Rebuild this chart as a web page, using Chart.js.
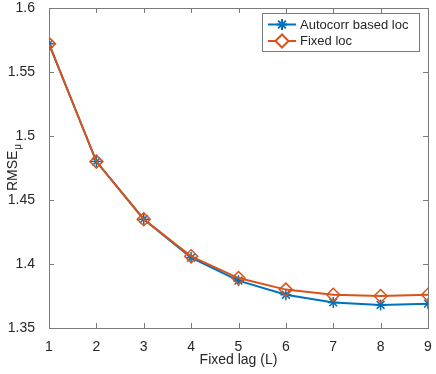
<!DOCTYPE html>
<html>
<head>
<meta charset="utf-8">
<script src="https://cdn.jsdelivr.net/npm/chart.js@4"></script>
<style>
html, body { margin: 0; padding: 0; background: #fff; }
#wrap { position: relative; width: 436px; height: 374px; }
</style>
</head>
<body>
<div id="wrap"><canvas id="rmseChart"></canvas></div>
<script>
const lags = [1, 2, 3, 4, 5, 6, 7, 8, 9];
const autocorrLoc = [1.572, 1.480, 1.435, 1.405, 1.387, 1.376, 1.370, 1.368, 1.369];
const fixedLoc = [1.572, 1.480, 1.435, 1.406, 1.389, 1.380, 1.376, 1.375, 1.376];
const yTicks = [1.35, 1.4, 1.45, 1.5, 1.55, 1.6];
const seriesNames = ['Autocorr based loc', 'Fixed loc'];

const AZUL = '#0072BD';
const LARANJA = '#D95319';
const EIXO = '#262626';
const FONTE = '"Liberation Sans", Arial, Helvetica, sans-serif';

function pontos(valores) {
    return lags.map((l, i) => ({ x: l, y: valores[i] }));
}

// moldura + ticks para dentro (estilo matlab)
const molduraPlugin = {
    id: 'moldura',
    beforeDatasetsDraw(chart) {
        const { ctx, chartArea: a, scales } = chart;
        ctx.save();
        ctx.strokeStyle = '#7a7a7a';
        ctx.lineWidth = 1;
        ctx.strokeRect(Math.round(a.left) + 0.5, Math.round(a.top) + 0.5,
            Math.round(a.right - a.left), Math.round(a.bottom - a.top));
        ctx.beginPath();
        scales.x.ticks.forEach(t => {
            const px = Math.round(scales.x.getPixelForValue(t.value)) + 0.5;
            ctx.moveTo(px, a.bottom); ctx.lineTo(px, a.bottom - 5);
            ctx.moveTo(px, a.top); ctx.lineTo(px, a.top + 5);
        });
        scales.y.ticks.forEach(t => {
            const py = Math.round(scales.y.getPixelForValue(t.value)) + 0.5;
            ctx.moveTo(a.left, py); ctx.lineTo(a.left + 5, py);
            ctx.moveTo(a.right, py); ctx.lineTo(a.right - 5, py);
        });
        ctx.stroke();
        ctx.restore();
    },
    afterDraw(chart) {
        const { ctx, chartArea: a } = chart;
        ctx.save();
        // titulo do eixo y com subscrito
        ctx.fillStyle = EIXO;
        ctx.translate(17, (a.top + a.bottom) / 2);
        ctx.rotate(-Math.PI / 2);
        ctx.font = '14px ' + FONTE;
        const w1 = ctx.measureText('RMSE').width;
        ctx.font = '10px ' + FONTE;
        const w2 = ctx.measureText('μ').width;
        ctx.textBaseline = 'alphabetic';
        ctx.textAlign = 'left';
        ctx.font = '14px ' + FONTE;
        ctx.fillText('RMSE', -(w1 + w2) / 2, 0);
        ctx.font = '10px ' + FONTE;
        ctx.fillText('μ', -(w1 + w2) / 2 + w1 + 1, 4);
        ctx.restore();

        // legenda
        ctx.save();
        const bx = 262.5, by = 13.5, bw = 157, bh = 38;
        ctx.fillStyle = '#fff';
        ctx.fillRect(bx, by, bw, bh);
        ctx.strokeStyle = '#7a7a7a';
        ctx.lineWidth = 1;
        ctx.strokeRect(bx, by, bw, bh);
        const itens = [
            { cor: AZUL, estilo: 'star', raio: 5.5, y: 24.5 },
            { cor: LARANJA, estilo: 'rectRot', raio: 6.5, y: 41 }
        ];
        itens.forEach((it, i) => {
            ctx.strokeStyle = it.cor;
            ctx.lineWidth = 2;
            ctx.beginPath();
            ctx.moveTo(268, it.y); ctx.lineTo(296, it.y);
            ctx.stroke();
            ctx.fillStyle = '#fff';
            Chart.helpers.drawPoint(ctx, { pointStyle: it.estilo, radius: it.raio, borderWidth: 1.5, rotation: 0 }, 282, it.y);
            ctx.fillStyle = EIXO;
            ctx.font = '13px ' + FONTE;
            ctx.textBaseline = 'middle';
            ctx.textAlign = 'left';
            ctx.fillText(seriesNames[i], 300, it.y + 0.5);
        });
        ctx.restore();
    }
};

const ctxRmse = document.getElementById('rmseChart');

new Chart(ctxRmse, {
    type: 'line',
    data: {
        datasets: [
            {
                label: seriesNames[0],
                data: pontos(autocorrLoc),
                borderColor: AZUL,
                backgroundColor: AZUL,
                borderWidth: 2,
                pointStyle: 'star',
                pointRadius: 5.5,
                pointBorderWidth: 1.5,
                pointBorderColor: AZUL,
                tension: 0,
                order: 2
            },
            {
                label: seriesNames[1],
                data: pontos(fixedLoc),
                borderColor: LARANJA,
                backgroundColor: 'rgba(0,0,0,0)',
                borderWidth: 2,
                pointStyle: 'rectRot',
                pointRadius: 6.5,
                pointBorderWidth: 1.5,
                pointBorderColor: LARANJA,
                pointBackgroundColor: 'rgba(0,0,0,0)',
                tension: 0,
                order: 1
            }
        ]
    },
    options: {
        responsive: true,
        maintainAspectRatio: false,
        animation: false,
        layout: { padding: { left: 0, right: 7, top: 5, bottom: 0 } },
        plugins: {
            legend: { display: false },
            tooltip: { enabled: false }
        },
        scales: {
            x: {
                type: 'linear',
                min: 1,
                max: 9,
                grid: { display: false },
                border: { display: false },
                ticks: {
                    stepSize: 1,
                    padding: 3,
                    color: EIXO,
                    font: { family: FONTE, size: 14 }
                },
                title: {
                    display: true,
                    text: 'Fixed lag (L)',
                    color: EIXO,
                    font: { family: FONTE, size: 14 },
                    padding: { top: 0, bottom: 5 }
                },
                afterFit(scale) {
                    scale.height = 46;
                    scale.paddingLeft = 0;
                    scale.paddingRight = 0;
                }
            },
            y: {
                min: 1.35,
                max: 1.6,
                grid: { display: false },
                border: { display: false },
                afterBuildTicks(scale) {
                    scale.ticks = yTicks.map(v => ({ value: v }));
                },
                ticks: {
                    padding: 6,
                    color: EIXO,
                    font: { family: FONTE, size: 14 },
                    callback: v => String(+Number(v).toFixed(2))
                },
                afterFit(scale) {
                    scale.width = 49;
                    scale.paddingTop = 0;
                    scale.paddingBottom = 0;
                }
            }
        }
    },
    plugins: [molduraPlugin]
});
</script>
</body>
</html>
